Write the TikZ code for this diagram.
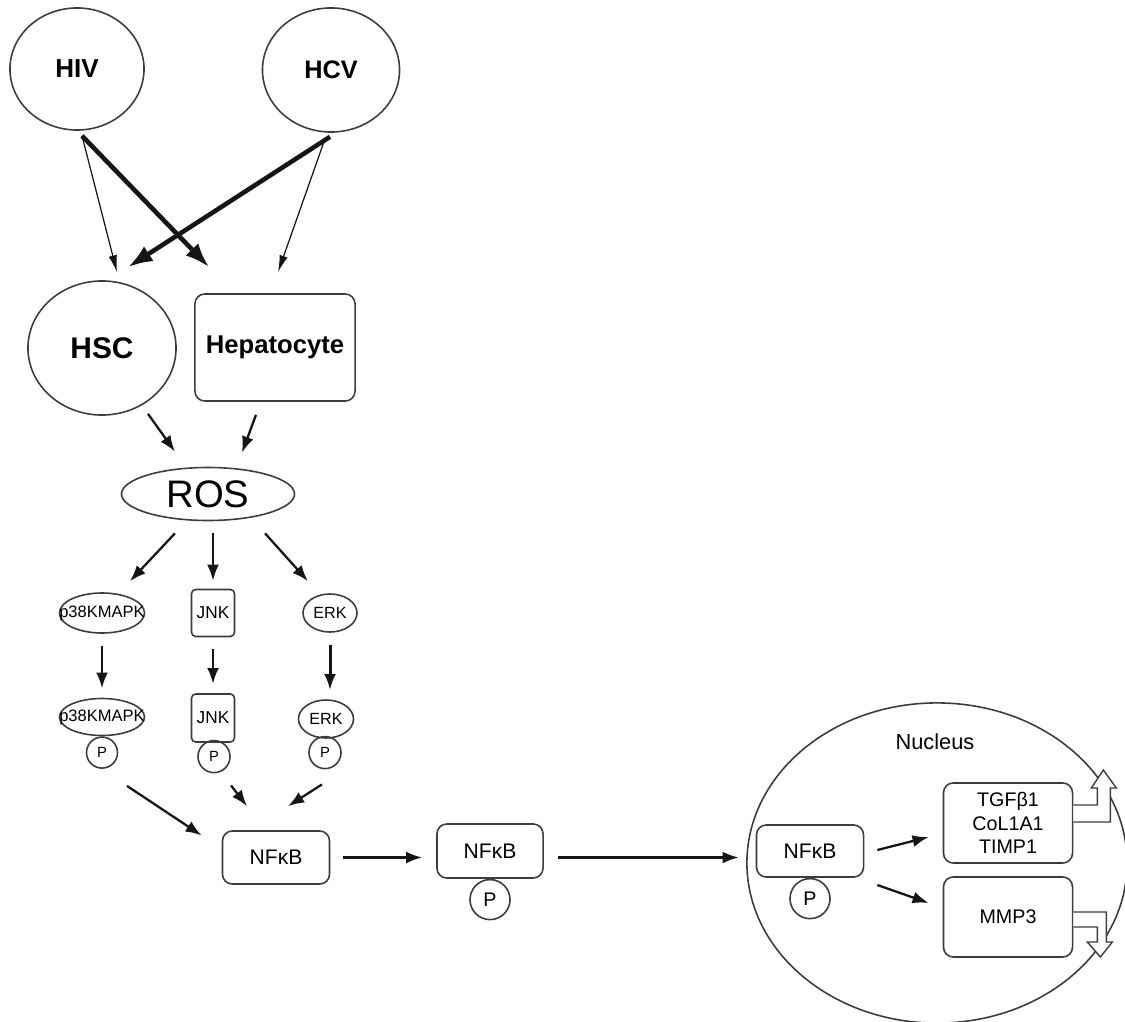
\documentclass[tikz,border=0pt]{standalone}
\usepackage{fontspec}
\setmainfont{Liberation Sans}
\usetikzlibrary{arrows.meta,shapes.geometric}
\definecolor{ink}{HTML}{151515}
\definecolor{edge}{HTML}{3C3C3C}
\newcommand{\fsz}[2]{\fontsize{#1}{#2}\selectfont}
\tikzset{>=Latex,
  cell/.style={draw=edge,line width=0.45pt,ellipse,inner sep=0pt},
  box/.style={draw=edge,line width=0.45pt,rectangle,rounded corners=2.8pt,inner sep=0pt},
  phos/.style={draw=edge,line width=0.45pt,circle,inner sep=0pt,anchor=north},
  thinarr/.style={draw=ink,line width=0.35pt,-{Latex[length=4.8pt,width=2.4pt]}},
  thickarr/.style={draw=ink,line width=1.3pt,-{Latex[length=7pt,width=5pt]}},
  arr/.style={draw=ink,line width=0.65pt,-{Latex[length=4.6pt,width=3.4pt]}},
  dnarr/.style={arr,line width=0.85pt,shorten <=0.12cm,shorten >=0.09cm},
  hollow/.style={draw=edge,line width=0.4pt,fill=white}}

\begin{document}
\begin{tikzpicture}[x=0.01cm,y=-0.01cm]
  \useasboundingbox (0,0) rectangle (1125,1022);
  \node[cell,minimum width=3.80cm,minimum height=3.20cm] (nuc) at (937,863) {};
  \node[font=\fsz{6.2pt}{7pt}] (nuclab) at (935,742) {Nucleus};
  \node[cell,minimum width=1.34cm,minimum height=1.22cm,font=\fsz{7.4pt}{8pt}\bfseries] (hiv) at (77,69) {HIV};
  \node[cell,minimum width=1.37cm,minimum height=1.24cm,font=\fsz{7.2pt}{8pt}\bfseries] (hcv) at (331,70) {HCV};
  \node[cell,minimum width=1.48cm,minimum height=1.34cm,font=\fsz{8.5pt}{9pt}\bfseries] (hsc) at (102,348) {HSC};
  \node[box,minimum width=1.60cm,minimum height=1.07cm,font=\fsz{7.3pt}{8pt}\bfseries] (hep) at (275,347.5) {Hepatocyte};
  \node[cell,minimum width=1.73cm,minimum height=0.53cm,font=\fsz{10.9pt}{11pt}] (ros) at (208,494) {ROS};
  \node[cell,inner xsep=-3.6pt,minimum width=0.75cm,minimum height=0.40cm,font=\fsz{4.7pt}{5pt}] (p38a) at (102,613) {p38KMAPK};
  \node[box,rounded corners=1.2pt,minimum width=0.43cm,minimum height=0.47cm,font=\fsz{4.9pt}{5pt}] (jnka) at (213,613) {JNK};
  \node[cell,minimum width=0.54cm,minimum height=0.38cm,font=\fsz{4.6pt}{5pt}] (erka) at (330,613) {ERK};
  \node[cell,inner xsep=-3.6pt,minimum width=0.75cm,minimum height=0.37cm,font=\fsz{4.7pt}{5pt}] (p38b) at (102,717) {p38KMAPK};
  \node[box,rounded corners=1.2pt,minimum width=0.43cm,minimum height=0.48cm,font=\fsz{4.9pt}{5pt}] (jnkb) at (213,718) {JNK};
  \node[cell,minimum width=0.55cm,minimum height=0.38cm,font=\fsz{4.6pt}{5pt}] (erkb) at (326,719) {ERK};
  \node[phos,minimum size=0.31cm,font=\fsz{4.2pt}{5pt}] (p38p) at (p38b.south) {P};
  \node[phos,minimum size=0.32cm,font=\fsz{4.2pt}{5pt}] (jnkp) at ([shift={(1,-3)}]jnkb.south) {P};
  \node[phos,minimum size=0.32cm,font=\fsz{4.2pt}{5pt}] (erkp) at ([shift={(-1,-3)}]erkb.south) {P};
  \node[box,minimum width=1.07cm,minimum height=0.53cm,font=\fsz{6pt}{7pt}] (nfkb1) at (276,857.5) {NFκB};
  \node[box,minimum width=1.06cm,minimum height=0.54cm,font=\fsz{6pt}{7pt}] (nfkb2) at (490,851) {NFκB};
  \node[phos,minimum size=0.40cm,font=\fsz{5.6pt}{6pt}] (p2) at (nfkb2.south) {P};
  \node[box,minimum width=1.07cm,minimum height=0.52cm,font=\fsz{6pt}{7pt}] (nfkb3) at (810,851) {NFκB};
  \node[phos,minimum size=0.40cm,font=\fsz{5.6pt}{6pt}] (p3) at (nfkb3.south) {P};
  \node[box,minimum width=1.29cm,minimum height=0.80cm,align=center,font=\fsz{5.6pt}{6.7pt}] (genes) at (1008,823) {TGFβ1\\CoL1A1\\TIMP1};
  \node[box,minimum width=1.29cm,minimum height=0.80cm,font=\fsz{5.6pt}{6.7pt}] (mmp) at (1008,917) {MMP3};

  \draw[thinarr] ([shift={(5,5)}]hiv.south) -- ([shift={(15,-8)}]hsc.north);
  \draw[thickarr] ([shift={(5,5)}]hiv.south) -- ([shift={(15,-26)}]hep.north west);
  \draw[thickarr] ([shift={(-1,4)}]hcv.south) -- ([shift={(26,-13)}]hsc.north);
  \draw[thinarr] ([shift={(-6,6)}]hcv.south) -- ([shift={(3,-21)}]hep.north);
  \draw[arr] ([shift={(46,-2)}]hsc.south) -- ([shift={(-33,-15)}]ros.north);
  \draw[arr] ([shift={(-19,13)}]hep.south) -- ([shift={(34,-14)}]ros.north);
  \draw[arr] ([shift={(-33,12)}]ros.south) -- ([shift={(28,-11)}]p38a.north);
  \draw[arr] ([shift={(5,12)}]ros.south) -- ([shift={(0,-8)}]jnka.north);
  \draw[arr] ([shift={(57,12)}]ros.south) -- ([shift={(-22,-12)}]erka.north);
  \draw[dnarr] (p38a.south) -- (p38a.south |- p38b.north);
  \draw[dnarr] (jnka.south) -- (jnka.south |- jnkb.north);
  \draw[dnarr] (erka.south) -- (erka.south |- erkb.north);
  \draw[arr] ([shift={(25,17)}]p38p.south) -- ([shift={(-20,-22)}]nfkb1.west);
  \draw[arr] ([shift={(17,12)}]jnkp.south) -- ([shift={(-29,-24)}]nfkb1.north);
  \draw[arr] ([shift={(-3,15)}]erkp.south) -- ([shift={(12,-24)}]nfkb1.north);
  \draw[arr] ([shift={(13,0)}]nfkb1.east) -- ([shift={(-14,0)}]nfkb1.east -| nfkb2.west);
  \draw[arr] ([shift={(14,0)}]nfkb2.east |- nfkb1.east) -- ([shift={(-17,0)}]nfkb3.west |- nfkb1.east);
  \draw[arr] ([shift={(13,-1)}]nfkb3.east) -- ([shift={(-14,14)}]genes.west);
  \draw[arr] ([shift={(13,34)}]nfkb3.east) -- ([shift={(-14,-14)}]mmp.west);
  \draw[hollow] ([shift={(0,-18)}]genes.east) -- ++(24,0) -- ++(0,-17) -- ++(-6,0) -- ++(12,-18)
    -- ++(13,18) -- ++(-6,0) -- ++(0,34) -- ++(-37,0);
  \draw[hollow] ([shift={(0,-5)}]mmp.east) -- ++(33,0) -- ++(0,30) -- ++(6,0) -- ++(-12,15)
    -- ++(-13,-15) -- ++(10,0) -- ++(0,-15) -- ++(-24,0);
\end{tikzpicture}
\end{document}
